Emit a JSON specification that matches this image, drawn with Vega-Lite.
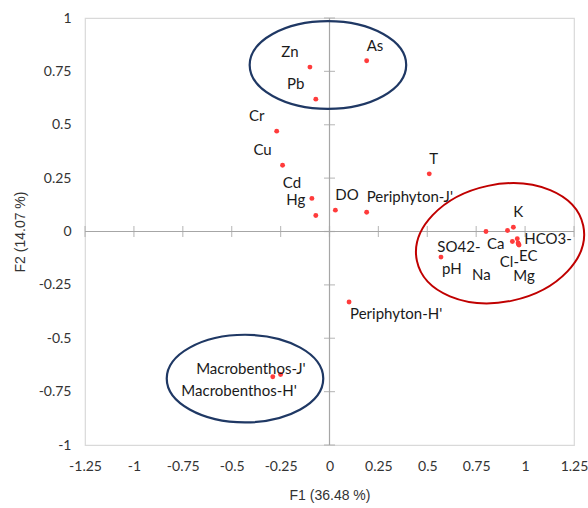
{
  "$schema": "https://vega.github.io/schema/vega-lite/v6.json",
  "width": 489,
  "height": 427,
  "autosize": {"type": "none"},
  "padding": {"left": 85, "top": 18, "right": 14, "bottom": 63},
  "background": "white",
  "config": {
    "view": {"stroke": "#d9d9d9", "strokeWidth": 1.2},
    "text": {"font": "Lato", "fontSize": 15, "color": "#1a1a1a"}
  },
  "datasets": {
    "loadings": [
      {"name": "As", "x": 0.19, "y": 0.80},
      {"name": "Zn", "x": -0.10, "y": 0.77},
      {"name": "Pb", "x": -0.07, "y": 0.62},
      {"name": "Cr", "x": -0.27, "y": 0.47},
      {"name": "Cu", "x": -0.24, "y": 0.31},
      {"name": "Cd", "x": -0.09, "y": 0.155},
      {"name": "Hg", "x": -0.07, "y": 0.075},
      {"name": "DO", "x": 0.03, "y": 0.10},
      {"name": "Periphyton-J'", "x": 0.19, "y": 0.09},
      {"name": "T", "x": 0.51, "y": 0.27},
      {"name": "K", "x": 0.94, "y": 0.02},
      {"name": "SO42-", "x": 0.91, "y": 0.005},
      {"name": "Ca", "x": 0.80, "y": 0.0},
      {"name": "Cl-", "x": 0.935, "y": -0.047},
      {"name": "HCO3-", "x": 0.96, "y": -0.034},
      {"name": "EC", "x": 0.964, "y": -0.054},
      {"name": "Mg", "x": 0.969, "y": -0.063},
      {"name": "Na", "x": 0.966, "y": -0.06},
      {"name": "pH", "x": 0.57, "y": -0.12},
      {"name": "Periphyton-H'", "x": 0.10, "y": -0.33},
      {"name": "Macrobenthos-J'", "x": -0.25, "y": -0.67},
      {"name": "Macrobenthos-H'", "x": -0.29, "y": -0.68}
    ],
    "xTicks": [
      {"x": -1.25, "y": 0}, {"x": -1, "y": 0}, {"x": -0.75, "y": 0}, {"x": -0.5, "y": 0},
      {"x": -0.25, "y": 0}, {"x": 0, "y": 0}, {"x": 0.25, "y": 0}, {"x": 0.5, "y": 0},
      {"x": 0.75, "y": 0}, {"x": 1, "y": 0}, {"x": 1.25, "y": 0}
    ],
    "yTicks": [
      {"x": 0, "y": -1}, {"x": 0, "y": -0.75}, {"x": 0, "y": -0.5}, {"x": 0, "y": -0.25},
      {"x": 0, "y": 0}, {"x": 0, "y": 0.25}, {"x": 0, "y": 0.5}, {"x": 0, "y": 0.75},
      {"x": 0, "y": 1}
    ]
  },
  "data": {"name": "loadings"},
  "layer": [
    {
      "data": {"values": [{}]},
      "mark": {"type": "rule", "color": "#a6a6a6", "strokeWidth": 1.2},
      "encoding": {
        "x": {"datum": 0, "type": "quantitative", "scale": {"domain": [-1.25, 1.25], "nice": false, "zero": false}}
      }
    },
    {
      "data": {"values": [{}]},
      "mark": {"type": "rule", "color": "#a6a6a6", "strokeWidth": 1.2},
      "encoding": {
        "y": {"datum": 0, "type": "quantitative", "scale": {"domain": [-1, 1], "nice": false, "zero": false}}
      }
    },
    {
      "data": {"name": "xTicks"},
      "mark": {"type": "tick", "orient": "vertical", "color": "#a6a6a6", "size": 11, "thickness": 1.2},
      "encoding": {
        "x": {"field": "x", "type": "quantitative", "scale": {"domain": [-1.25, 1.25], "nice": false, "zero": false}},
        "y": {"field": "y", "type": "quantitative", "scale": {"domain": [-1, 1], "nice": false, "zero": false}}
      }
    },
    {
      "data": {"name": "yTicks"},
      "mark": {"type": "tick", "orient": "horizontal", "color": "#a6a6a6", "size": 11, "thickness": 1.2},
      "encoding": {
        "x": {"field": "x", "type": "quantitative", "scale": {"domain": [-1.25, 1.25], "nice": false, "zero": false}},
        "y": {"field": "y", "type": "quantitative", "scale": {"domain": [-1, 1], "nice": false, "zero": false}}
      }
    },
    {
      "data": {"values": [{"group": "metals", "x": -0.008, "y": 0.78}, {"group": "macrobenthos", "x": -0.432, "y": -0.689}]},
      "mark": {
        "type": "point",
        "filled": false,
        "color": "#1f3864",
        "strokeWidth": 2.2,
        "opacity": 1,
        "size": 24500,
        "shape": "M -1 0 C -1 -0.309 -0.552 -0.56 0 -0.56 C 0.552 -0.56 1 -0.309 1 0 C 1 0.309 0.552 0.56 0 0.56 C -0.552 0.56 -1 0.309 -1 0 Z"
      },
      "encoding": {
        "x": {"field": "x", "type": "quantitative", "scale": {"domain": [-1.25, 1.25], "nice": false, "zero": false}},
        "y": {"field": "y", "type": "quantitative", "scale": {"domain": [-1, 1], "nice": false, "zero": false}}
      }
    },
    {
      "data": {"values": [{"group": "ions", "x": 0.872, "y": -0.055}]},
      "mark": {
        "type": "point",
        "filled": false,
        "color": "#c00000",
        "strokeWidth": 2,
        "opacity": 1,
        "size": 28900,
        "angle": 348,
        "shape": "M -1 0 C -1 -0.382 -0.552 -0.69 0 -0.69 C 0.552 -0.69 1 -0.382 1 0 C 1 0.382 0.552 0.69 0 0.69 C -0.552 0.69 -1 0.382 -1 0 Z"
      },
      "encoding": {
        "x": {"field": "x", "type": "quantitative", "scale": {"domain": [-1.25, 1.25], "nice": false, "zero": false}},
        "y": {"field": "y", "type": "quantitative", "scale": {"domain": [-1, 1], "nice": false, "zero": false}}
      }
    },
    {
      "mark": {"type": "circle", "color": "#ff3b3b", "size": 24, "opacity": 1},
      "encoding": {
        "x": {
          "field": "x", "type": "quantitative",
          "scale": {"domain": [-1.25, 1.25], "nice": false, "zero": false},
          "axis": {
            "title": "F1 (36.48  %)",
            "values": [-1.25, -1, -0.75, -0.5, -0.25, 0, 0.25, 0.5, 0.75, 1, 1.25],
            "labelExpr": "datum.value + ''",
            "ticks": false, "domain": false, "grid": false,
            "labelFlush": false, "labelOverlap": false,
            "labelPadding": 14, "labelFont": "Lato", "labelFontSize": 14, "labelColor": "#333333",
            "titleFont": "Liberation Sans", "titleFontSize": 14, "titleFontWeight": "normal",
            "titleColor": "#333333", "titlePadding": 15
          }
        },
        "y": {
          "field": "y", "type": "quantitative",
          "scale": {"domain": [-1, 1], "nice": false, "zero": false},
          "axis": {
            "title": "F2 (14.07 %)",
            "values": [-1, -0.75, -0.5, -0.25, 0, 0.25, 0.5, 0.75, 1],
            "labelExpr": "datum.value + ''",
            "ticks": false, "domain": false, "grid": false,
            "labelOverlap": false,
            "labelPadding": 14, "labelFont": "Lato", "labelFontSize": 14, "labelColor": "#333333",
            "titleFont": "Liberation Sans", "titleFontSize": 14, "titleFontWeight": "normal",
            "titleColor": "#333333", "titlePadding": 11
          }
        }
      }
    },
    {
      "transform": [{"filter": {"field": "name", "oneOf": ["Zn", "Pb", "Cr", "Cu", "Cd", "Hg"]}}],
      "mark": {"type": "text", "align": "center", "baseline": "middle", "dx": -20, "dy": -15},
      "encoding": {
        "x": {"field": "x", "type": "quantitative", "scale": {"domain": [-1.25, 1.25], "nice": false, "zero": false}},
        "y": {"field": "y", "type": "quantitative", "scale": {"domain": [-1, 1], "nice": false, "zero": false}},
        "text": {"field": "name"}
      }
    },
    {
      "transform": [{"filter": {"field": "name", "oneOf": ["As", "T", "DO", "Periphyton-J'", "K"]}}],
      "mark": {"type": "text", "align": "left", "baseline": "middle", "dx": 0, "dy": -15},
      "encoding": {
        "x": {"field": "x", "type": "quantitative", "scale": {"domain": [-1.25, 1.25], "nice": false, "zero": false}},
        "y": {"field": "y", "type": "quantitative", "scale": {"domain": [-1, 1], "nice": false, "zero": false}},
        "text": {"field": "name"}
      }
    },
    {
      "transform": [{"filter": {"field": "name", "oneOf": ["Periphyton-H'", "pH", "Ca"]}}],
      "mark": {"type": "text", "align": "left", "baseline": "middle", "dx": 1, "dy": 12},
      "encoding": {
        "x": {"field": "x", "type": "quantitative", "scale": {"domain": [-1.25, 1.25], "nice": false, "zero": false}},
        "y": {"field": "y", "type": "quantitative", "scale": {"domain": [-1, 1], "nice": false, "zero": false}},
        "text": {"field": "name"}
      }
    },
    {
      "transform": [{"filter": {"field": "name", "equal": "EC"}}],
      "mark": {"type": "text", "align": "left", "baseline": "middle", "dx": 1, "dy": 13},
      "encoding": {
        "x": {"field": "x", "type": "quantitative", "scale": {"domain": [-1.25, 1.25], "nice": false, "zero": false}},
        "y": {"field": "y", "type": "quantitative", "scale": {"domain": [-1, 1], "nice": false, "zero": false}},
        "text": {"field": "name"}
      }
    },
    {
      "transform": [{"filter": {"field": "name", "equal": "SO42-"}}],
      "mark": {"type": "text", "align": "right", "baseline": "middle", "dx": -27, "dy": 17},
      "encoding": {
        "x": {"field": "x", "type": "quantitative", "scale": {"domain": [-1.25, 1.25], "nice": false, "zero": false}},
        "y": {"field": "y", "type": "quantitative", "scale": {"domain": [-1, 1], "nice": false, "zero": false}},
        "text": {"field": "name"}
      }
    },
    {
      "transform": [{"filter": {"field": "name", "equal": "Cl-"}}],
      "mark": {"type": "text", "align": "center", "baseline": "middle", "dx": -3, "dy": 20},
      "encoding": {
        "x": {"field": "x", "type": "quantitative", "scale": {"domain": [-1.25, 1.25], "nice": false, "zero": false}},
        "y": {"field": "y", "type": "quantitative", "scale": {"domain": [-1, 1], "nice": false, "zero": false}},
        "text": {"field": "name"}
      }
    },
    {
      "transform": [{"filter": {"field": "name", "equal": "HCO3-"}}],
      "mark": {"type": "text", "align": "left", "baseline": "middle", "dx": 7, "dy": 0},
      "encoding": {
        "x": {"field": "x", "type": "quantitative", "scale": {"domain": [-1.25, 1.25], "nice": false, "zero": false}},
        "y": {"field": "y", "type": "quantitative", "scale": {"domain": [-1, 1], "nice": false, "zero": false}},
        "text": {"field": "name"}
      }
    },
    {
      "transform": [{"filter": {"field": "name", "equal": "Mg"}}],
      "mark": {"type": "text", "align": "center", "baseline": "middle", "dx": 5, "dy": 31},
      "encoding": {
        "x": {"field": "x", "type": "quantitative", "scale": {"domain": [-1.25, 1.25], "nice": false, "zero": false}},
        "y": {"field": "y", "type": "quantitative", "scale": {"domain": [-1, 1], "nice": false, "zero": false}},
        "text": {"field": "name"}
      }
    },
    {
      "transform": [{"filter": {"field": "name", "equal": "Na"}}],
      "mark": {"type": "text", "align": "center", "baseline": "middle", "dx": -37, "dy": 31},
      "encoding": {
        "x": {"field": "x", "type": "quantitative", "scale": {"domain": [-1.25, 1.25], "nice": false, "zero": false}},
        "y": {"field": "y", "type": "quantitative", "scale": {"domain": [-1, 1], "nice": false, "zero": false}},
        "text": {"field": "name"}
      }
    },
    {
      "transform": [{"filter": {"field": "name", "equal": "Macrobenthos-J'"}}],
      "mark": {"type": "text", "align": "right", "baseline": "middle", "dx": 25, "dy": -6},
      "encoding": {
        "x": {"field": "x", "type": "quantitative", "scale": {"domain": [-1.25, 1.25], "nice": false, "zero": false}},
        "y": {"field": "y", "type": "quantitative", "scale": {"domain": [-1, 1], "nice": false, "zero": false}},
        "text": {"field": "name"}
      }
    },
    {
      "transform": [{"filter": {"field": "name", "equal": "Macrobenthos-H'"}}],
      "mark": {"type": "text", "align": "right", "baseline": "middle", "dx": 24, "dy": 14},
      "encoding": {
        "x": {"field": "x", "type": "quantitative", "scale": {"domain": [-1.25, 1.25], "nice": false, "zero": false}},
        "y": {"field": "y", "type": "quantitative", "scale": {"domain": [-1, 1], "nice": false, "zero": false}},
        "text": {"field": "name"}
      }
    }
  ]
}
